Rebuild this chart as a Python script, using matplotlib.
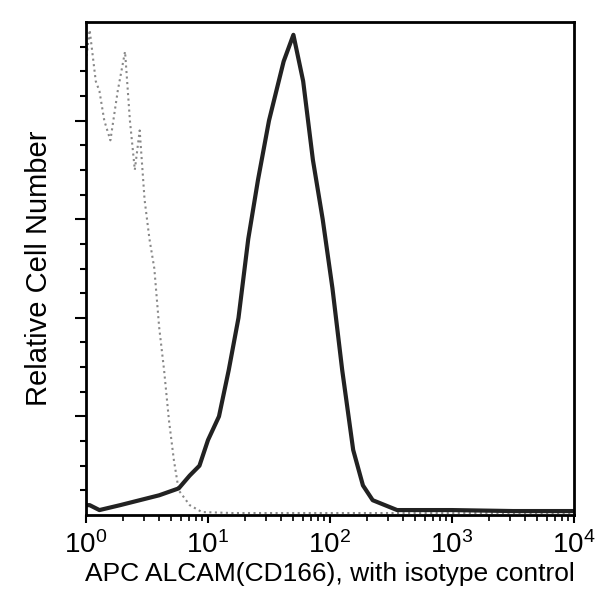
import matplotlib
matplotlib.use("Agg")
import matplotlib.pyplot as plt
import numpy as np

plt.rcParams['font.family'] = ['Liberation Sans', 'DejaVu Sans']

iso_logx = [0.0, 0.03, 0.08, 0.11, 0.15, 0.2, 0.26, 0.32, 0.36, 0.4, 0.44, 0.48, 0.52, 0.56, 0.6, 0.64, 0.68, 0.72, 0.76, 0.85, 0.95, 1.2, 1.6, 2.0, 2.5, 3.0, 3.5, 4.0]
iso_y    = [4.6, 4.92, 4.4, 4.3, 4.0, 3.8, 4.3, 4.7, 4.0, 3.5, 3.9, 3.2, 2.8, 2.5, 1.9, 1.47, 0.96, 0.56, 0.25, 0.1, 0.03, 0.02, 0.02, 0.02, 0.02, 0.02, 0.02, 0.02]

s_logx = [0.0, 0.03, 0.11, 0.28, 0.44, 0.6, 0.76, 0.85, 0.93, 1.0, 1.09, 1.17, 1.25, 1.33, 1.41, 1.5, 1.62, 1.7, 1.78, 1.86, 1.94, 2.02, 2.1, 2.19, 2.27, 2.35, 2.55, 3.0, 3.5, 4.0]
s_y    = [0.1, 0.1, 0.05, 0.1, 0.15, 0.2, 0.27, 0.4, 0.5, 0.76, 1.0, 1.47, 2.0, 2.8, 3.4, 4.0, 4.6, 4.87, 4.4, 3.6, 3.0, 2.3, 1.47, 0.66, 0.3, 0.15, 0.05, 0.05, 0.04, 0.04]

fig = plt.figure(figsize=(6, 6), dpi=100)
ax = fig.add_axes([86/600, 85/600, 488/600, 493/600])
ax.plot(10**np.array(iso_logx), iso_y, color='#888888', lw=1.5, ls=':')
ax.plot(10**np.array(s_logx), s_y, color='#222222', lw=3)
ax.set_xscale('log')
ax.set_xlim(1, 1e4)
ax.set_ylim(0, 5)
ax.set_yticks([1, 2, 3, 4])
ax.set_yticklabels([])
ax.set_yticks(np.arange(0.25, 5, 0.25), minor=True)
ax.tick_params(axis='y', which='major', direction='out', length=8, width=1.5)
ax.tick_params(axis='y', which='minor', direction='out', length=4, width=1.5)
ax.tick_params(axis='x', which='major', direction='out', length=6, width=1.5, labelsize=20, pad=6)
ax.tick_params(axis='x', which='minor', direction='out', length=4, width=1.2)
for s in ax.spines.values():
    s.set_linewidth(2)
ax.set_xlabel('APC ALCAM(CD166), with isotype control', fontsize=19, labelpad=2)
ax.set_ylabel('Relative Cell Number', fontsize=21, labelpad=12)
fig.savefig('out.png', dpi=100)
